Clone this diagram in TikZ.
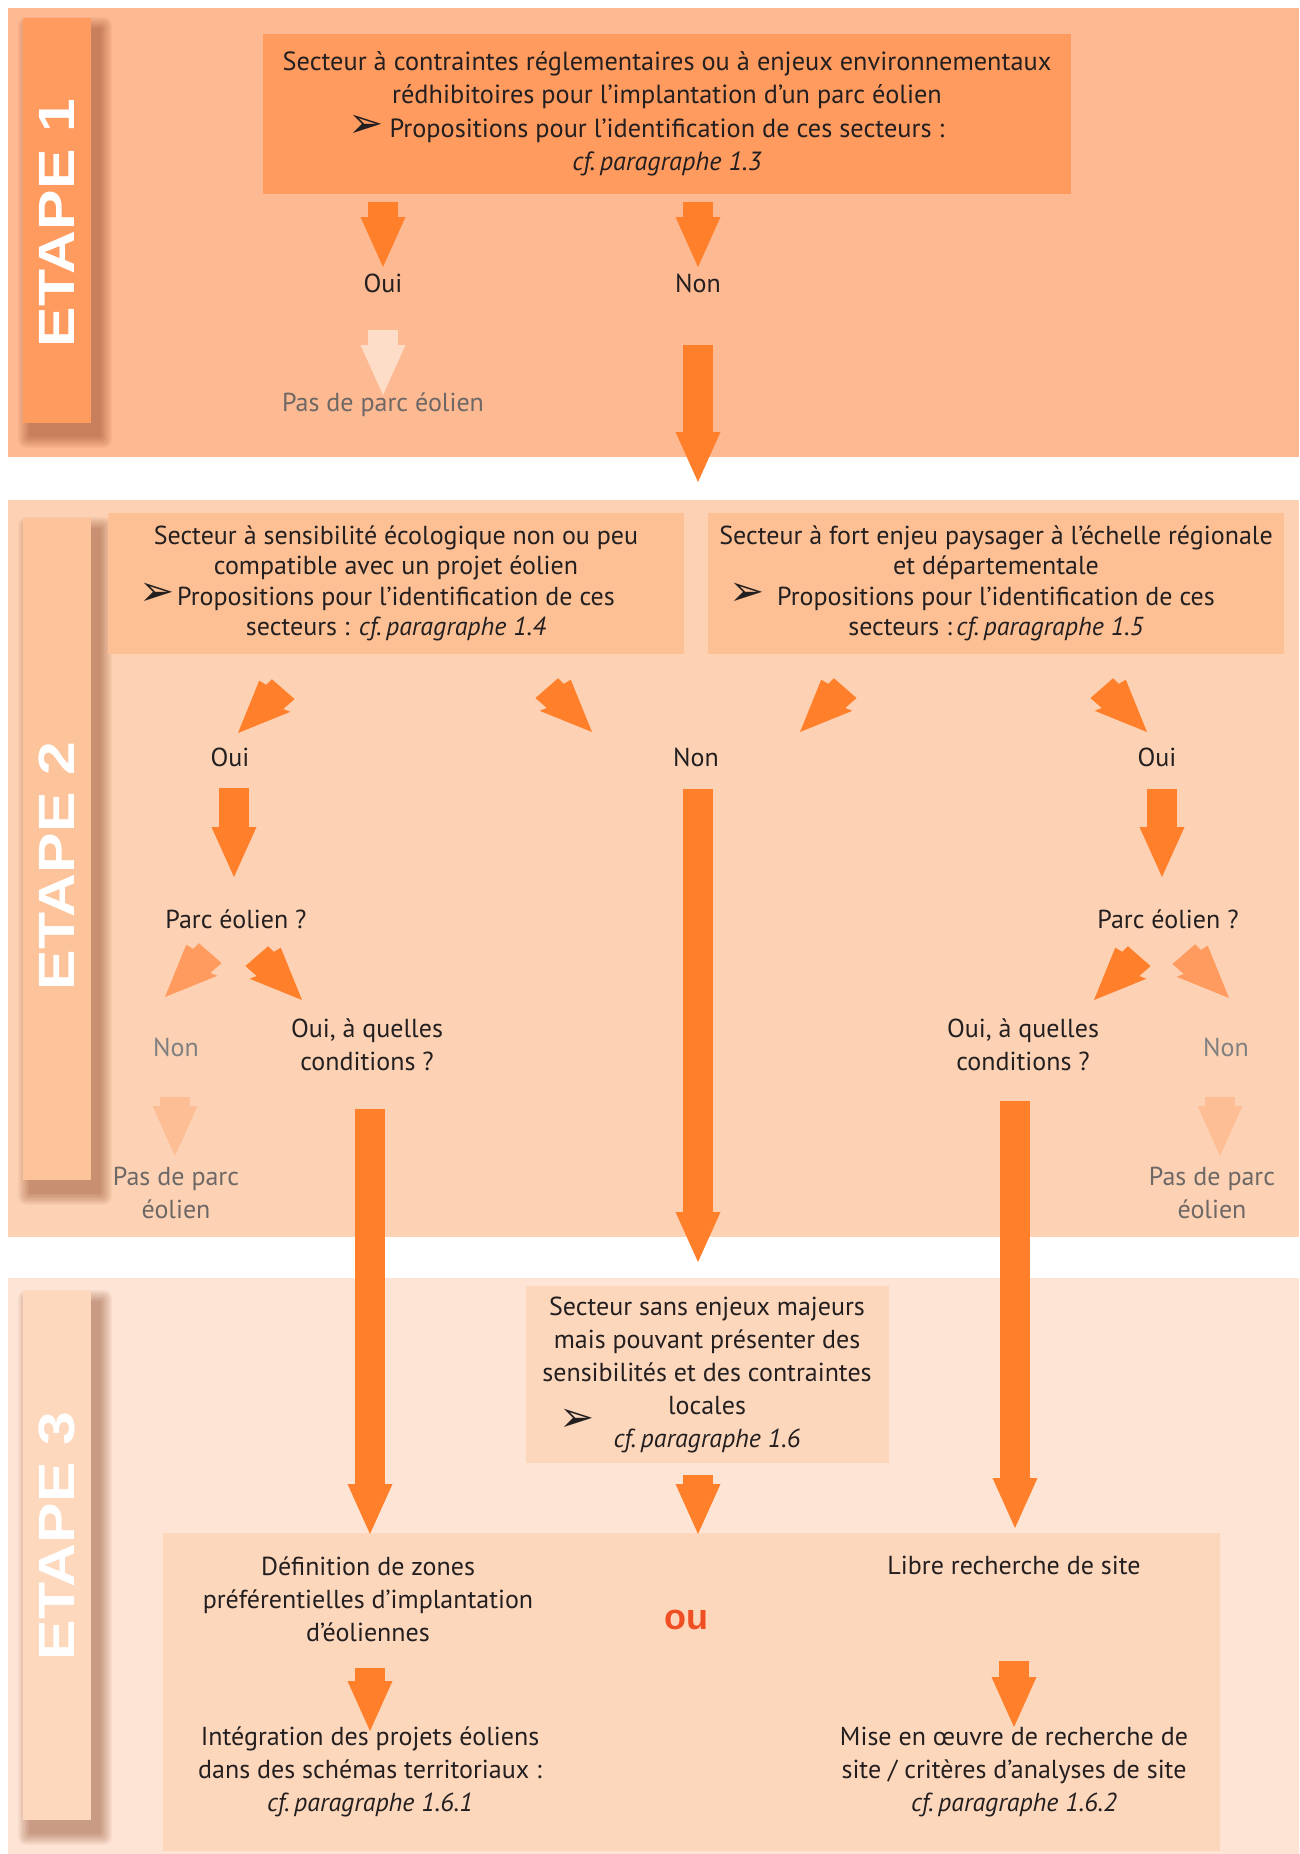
\documentclass[tikz,border=0pt]{standalone}
\usepackage{fontspec}
\setmainfont{PT Sans}
\newfontfamily\dejavu{DejaVu Sans}
\newfontfamily\etapefont{Liberation Sans}
\usetikzlibrary{arrows.meta}
\definecolor{bandA}{HTML}{FDB991}
\definecolor{boxA}{HTML}{FF9B5F}
\definecolor{sideA}{HTML}{FF9B5F}
\definecolor{bandB}{HTML}{FDD2B4}
\definecolor{boxB}{HTML}{FDC094}
\definecolor{sideB}{HTML}{FDC49B}
\definecolor{bandC}{HTML}{FEE4D4}
\definecolor{boxC}{HTML}{FDD7BC}
\definecolor{sideC}{HTML}{FDD8BD}
\definecolor{arrowc}{HTML}{FF7F2A}
\definecolor{fadeA}{HTML}{FDDCC8}
\definecolor{fadeB}{HTML}{FDBE96}
\definecolor{midc}{HTML}{FF9B5F}
\definecolor{textc}{HTML}{231F20}
\definecolor{grayc}{HTML}{6D6866}
\definecolor{grayn}{HTML}{808080}
\definecolor{ouc}{HTML}{F04E23}
\definecolor{shadowc}{HTML}{7A2E0E}
\newcommand\plane[1][42]{{\fontsize{#1}{#1}\dejavu ➢}}
\newcommand\cfp[1]{\textit{cf.\,paragraphe #1}}
\begin{document}
\begin{tikzpicture}[x=1pt,y=-1pt,
  txt/.style={font=\fontsize{26}{33}\selectfont, text=textc, align=center, inner sep=0pt},
  graytxt/.style={txt, text=grayc},
  boxtxt/.style={inner sep=0pt, align=center, text=textc},
  varrow/.style={line width=30pt, draw=#1, -{Triangle[length=50pt,width=45pt,line width=0pt]}},
  varrow/.default=arrowc,
  etape/.style={rotate=90, text=white, inner sep=0pt, font=\fontsize{51}{51}\selectfont\etapefont\bfseries},
  pics/diagarr/.style={code={\fill[#1] (0,0) -- (-52,-22) -- (-49,-15) -- (-64,-16) -- (-62,14) -- (-54,14) -- (-52,22) -- cycle;}}
]
\useasboundingbox (0,0) rectangle (1299,1854);
\fill[white] (0,0) rectangle (1299,1854);

% bands
\fill[bandA] (8,8) rectangle (1299,457);
\fill[bandB] (8,500) rectangle (1299,1237);
\fill[bandC] (8,1278) rectangle (1299,1854);

% sidebars with shadows
\foreach \ya/\yb/\c in {18/423/sideA, 518/1180/sideB, 1291/1820/sideC}{
  \foreach \k in {1,...,8}{
    \fill[shadowc, opacity=0.06, rounded corners=\k pt] ({31-\k*1.6},{\ya+12-\k*1.6}) rectangle ({99+\k*1.6},{\yb+12+\k*1.6});
  }
  \fill[\c] (23,\ya) rectangle (91,\yb);
}
\node[etape] (e1) at (57,223) {\scalebox{1.19}[1]{ETAPE 1}};
\node[etape] (e2) at (57,866) {\scalebox{1.19}[1]{ETAPE 2}};
\node[etape] (e3) at (57,1536) {\scalebox{1.19}[1]{ETAPE 3}};

% ETAPE 1
\node[boxtxt, fill=boxA, minimum width=808pt, minimum height=160pt, font=\fontsize{26.3}{33.5}\selectfont] (b1) at (667,114)
  {Secteur à contraintes réglementaires ou à enjeux environnementaux\\
   rédhibitoires pour l'implantation d'un parc éolien\\
   \llap{\plane\hspace{6pt}}Propositions pour l'identification de ces secteurs :\\
   \cfp{1.3}};
\node[txt] (oui1) at (383,283) {Oui};
\node[txt] (non1) at (698,283) {Non};
\node[graytxt] (pas1) at (383,405) {Pas de parc éolien};

\coordinate (a1s) at (383,202); \coordinate (a1e) at (383,267);
\coordinate (a2s) at (698,202); \coordinate (a2e) at (698,267);
\coordinate (a3s) at (383,330); \coordinate (a3e) at (383,395);
\coordinate (a4s) at (698,345); \coordinate (a4e) at (698,482);

% ETAPE 2
\node[boxtxt, fill=boxB, minimum width=576pt, minimum height=141pt, font=\fontsize{26}{30.5}\selectfont] (b2a) at (396,583.5)
  {Secteur à sensibilité écologique non ou peu\\
   compatible avec un projet éolien\\
   \llap{\plane\hspace{2pt}}Propositions pour l'identification de ces\\
   secteurs : \cfp{1.4}};
\node[boxtxt, fill=boxB, minimum width=576pt, minimum height=141pt, font=\fontsize{26}{30.5}\selectfont] (b2b) at (996,583.5)
  {Secteur à fort enjeu paysager à l'échelle régionale\\
   et départementale\\
   \llap{\plane\hspace{12pt}}Propositions pour l'identification de ces\\
   secteurs :\,\cfp{1.5}};
\node[txt] (oui2a) at (230,757) {Oui};
\node[txt] (non2) at (696,757) {Non};
\node[txt] (oui2b) at (1157,757) {Oui};
\node[txt] (parca) at (236,919) {Parc éolien ?};
\node[txt] (parcb) at (1168,919) {Parc éolien ?};
\node[txt, text=grayn] (non2a) at (176,1047) {Non};
\node[txt, text=grayn] (non2b) at (1226,1047) {Non};
\node[txt] (conda) at (367,1045) {Oui, à quelles\\conditions ?};
\node[txt] (condb) at (1023,1045) {Oui, à quelles\\conditions ?};
\node[graytxt] (pas2a) at (176,1193) {Pas de parc\\éolien};
\node[graytxt] (pas2b) at (1212,1193) {Pas de parc\\éolien};

\coordinate (d1) at (238,733); \coordinate (d2) at (592,732);
\coordinate (d3) at (800,732); \coordinate (d4) at (1147,732);
\coordinate (d5) at (165,997); \coordinate (d6) at (302,1000);
\coordinate (d7) at (1094,1000); \coordinate (d8) at (1229,998);

\coordinate (b1s) at (234,788); \coordinate (b1e) at (234,877);
\coordinate (b2s) at (1162,789); \coordinate (b2e) at (1162,877);
\coordinate (b3s) at (698,789); \coordinate (b3e) at (698,1262);
\coordinate (b4s) at (175,1097); \coordinate (b4e) at (175,1156);
\coordinate (b5s) at (1220,1097); \coordinate (b5e) at (1220,1156);
\coordinate (b6s) at (370,1109); \coordinate (b6e) at (370,1534);
\coordinate (b7s) at (1015,1101); \coordinate (b7e) at (1015,1528);

% ETAPE 3
\node[boxtxt, fill=boxC, minimum width=363pt, minimum height=177pt, font=\fontsize{26}{33}\selectfont] (b3) at (707,1374.5)
  {Secteur sans enjeux majeurs\\
   mais pouvant présenter des\\
   sensibilités et des contraintes\\
   locales\\
   \cfp{1.6}};
\node[inner sep=0pt, text=textc] (pl3) at (577,1420) {\plane};
\node[fill=boxC, minimum width=1057pt, minimum height=318pt, inner sep=0pt] (b4) at (691.5,1692) {};
\node[txt] (def) at (368,1599) {Définition de zones\\préférentielles d'implantation\\d'éoliennes};
\node[inner sep=0pt, text=ouc, font=\fontsize{36}{36}\selectfont\etapefont\bfseries] (ou) at (686,1620) {ou};
\node[txt] (libre) at (1014,1565) {Libre recherche de site};
\node[txt] (integ) at (370,1772) {Intégration des projets éoliens\\dans des schémas territoriaux :\\\cfp{1.6.1}};
\node[txt] (mise) at (1014,1772) {Mise en œuvre de recherche de\\site / critères d'analyses de site\\\cfp{1.6.2}};

\coordinate (c1s) at (698,1475); \coordinate (c1e) at (698,1534);
\coordinate (c2s) at (370,1668); \coordinate (c2e) at (370,1731);
\coordinate (c3s) at (1014,1661); \coordinate (c3e) at (1014,1727);

% arrows
\draw[varrow] (a1s) -- (a1e);
\draw[varrow] (a2s) -- (a2e);
\draw[varrow=fadeA] (a3s) -- (a3e);
\draw[varrow] (a4s) -- (a4e);
\draw[varrow] (b1s) -- (b1e);
\draw[varrow] (b2s) -- (b2e);
\draw[varrow] (b3s) -- (b3e);
\draw[varrow=fadeB] (b4s) -- (b4e);
\draw[varrow=fadeB] (b5s) -- (b5e);
\draw[varrow] (b6s) -- (b6e);
\draw[varrow] (b7s) -- (b7e);
\draw[varrow] (c1s) -- (c1e);
\draw[varrow] (c2s) -- (c2e);
\draw[varrow] (c3s) -- (c3e);

\pic[rotate=225] at (d1) {diagarr=arrowc};
\pic[rotate=315, yscale=-1] at (d2) {diagarr=arrowc};
\pic[rotate=225] at (d3) {diagarr=arrowc};
\pic[rotate=315, yscale=-1] at (d4) {diagarr=arrowc};
\pic[rotate=225] at (d5) {diagarr=midc};
\pic[rotate=315, yscale=-1] at (d6) {diagarr=arrowc};
\pic[rotate=225] at (d7) {diagarr=arrowc};
\pic[rotate=315, yscale=-1] at (d8) {diagarr=midc};
\end{tikzpicture}
\end{document}
